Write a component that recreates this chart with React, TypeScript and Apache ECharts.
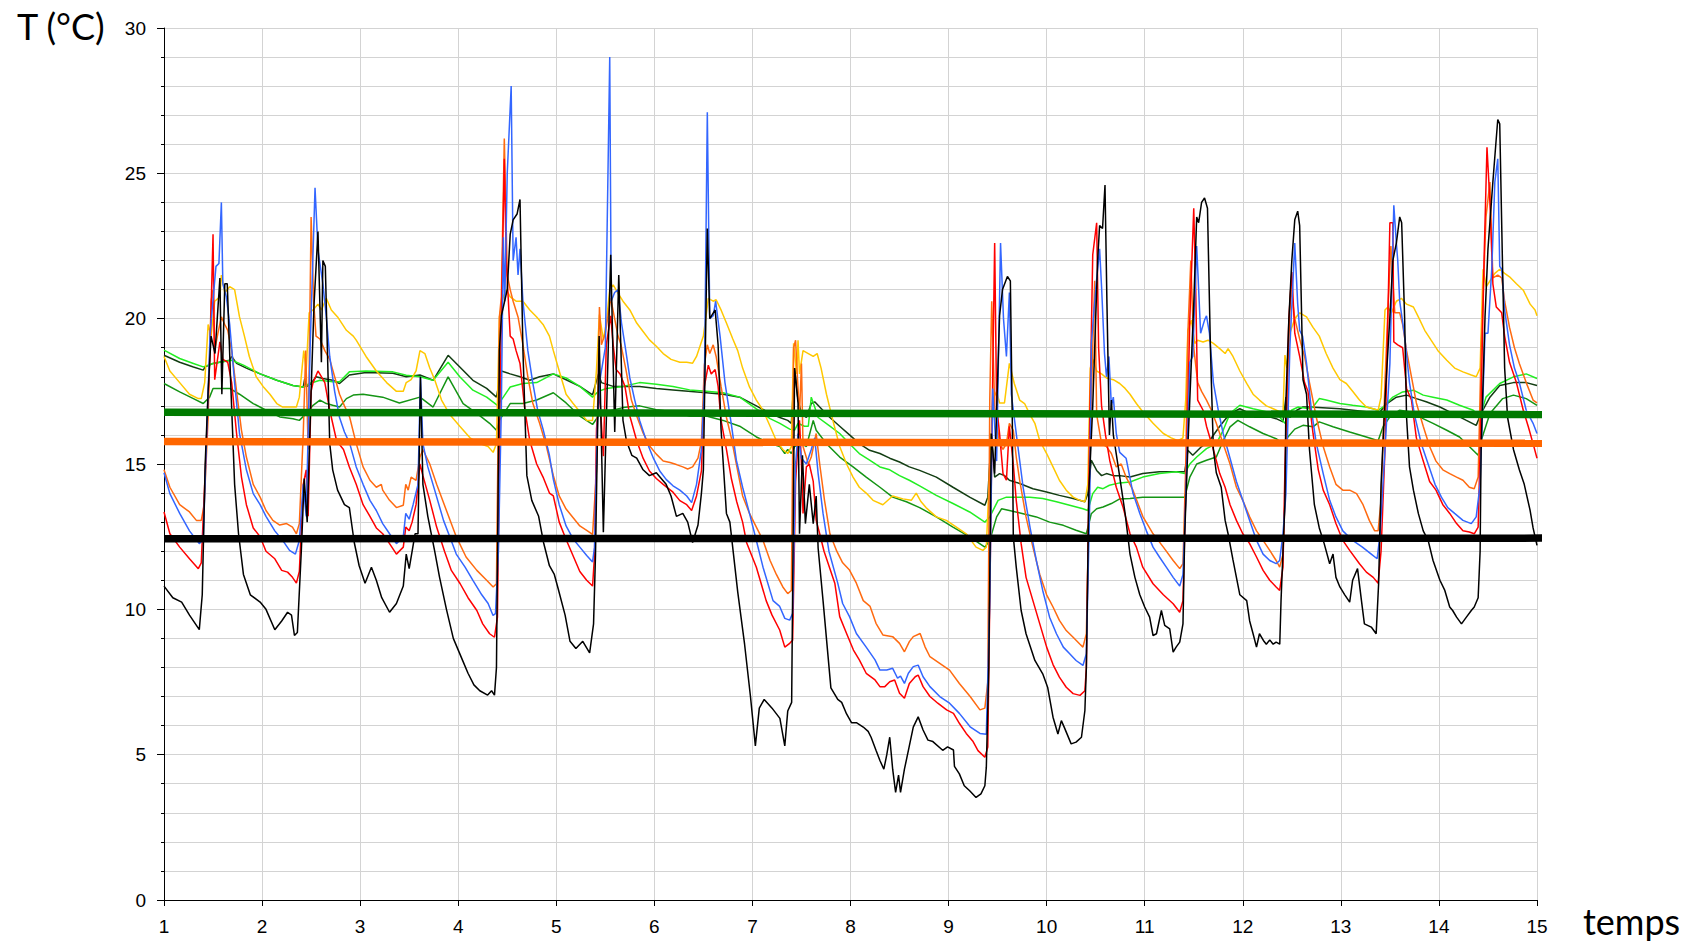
import React, { useEffect, useRef } from "react";
import * as echarts from "echarts";

type P = [number, number];

const xTickLabels = [1, 2, 3, 4, 5, 6, 7, 8, 9, 10, 11, 12, 13, 14, 15];
const yTickLabels = [0, 5, 10, 15, 20, 25, 30];

const black: P[] = [[1.0,10.8],[1.09,10.4],[1.18,10.25],[1.26,9.8],[1.36,9.3],[1.39,10.5],[1.42,15.0],[1.45,17.5],[1.48,19.4],[1.52,18.8],[1.57,21.4],[1.59,17.4],[1.62,21.2],[1.645,21.2],[1.68,17.8],[1.72,14.3],[1.76,12.6],[1.81,11.2],[1.88,10.5],[1.98,10.25],[2.04,10.0],[2.13,9.3],[2.2,9.6],[2.26,9.9],[2.3,9.8],[2.33,9.1],[2.36,9.2],[2.4,12.0],[2.43,14.5],[2.46,13.0],[2.5,17.5],[2.53,20.5],[2.57,23.0],[2.605,18.5],[2.62,22.0],[2.645,21.8],[2.69,15.7],[2.72,14.8],[2.77,14.1],[2.84,13.6],[2.89,13.5],[2.94,12.3],[2.99,11.5],[3.05,10.9],[3.115,11.45],[3.165,11.0],[3.22,10.4],[3.3,9.9],[3.37,10.2],[3.44,10.8],[3.47,11.9],[3.5,11.4],[3.56,12.6],[3.59,12.6],[3.615,18.0],[3.64,14.3],[3.69,13.2],[3.76,12.0],[3.81,11.1],[3.88,10.0],[3.95,9.0],[4.05,8.2],[4.1,7.8],[4.16,7.4],[4.22,7.2],[4.3,7.05],[4.34,7.2],[4.37,7.05],[4.39,8.0],[4.42,18.9],[4.44,20.1],[4.5,21.0],[4.53,22.9],[4.56,23.4],[4.6,23.6],[4.63,24.1],[4.66,18.9],[4.7,14.6],[4.75,13.75],[4.82,13.2],[4.87,12.3],[4.93,11.5],[4.98,11.2],[5.02,10.7],[5.09,9.8],[5.14,8.9],[5.2,8.65],[5.27,8.9],[5.34,8.5],[5.38,9.5],[5.4,11.9],[5.437,19.4],[5.48,12.65],[5.555,22.2],[5.596,16.1],[5.637,21.5],[5.68,16.5],[5.715,15.8],[5.77,15.3],[5.82,15.2],[5.885,14.8],[5.95,14.6],[6.02,14.7],[6.12,14.3],[6.17,13.9],[6.225,13.2],[6.29,13.3],[6.34,13.0],[6.39,12.3],[6.445,12.9],[6.48,14.0],[6.5,14.8],[6.54,23.1],[6.565,20.0],[6.62,20.3],[6.65,19.1],[6.68,16.2],[6.735,13.3],[6.77,13.0],[6.85,10.6],[6.92,8.8],[6.98,7.0],[7.03,5.3],[7.07,6.6],[7.12,6.9],[7.2,6.6],[7.28,6.25],[7.33,5.3],[7.36,6.5],[7.4,6.8],[7.43,18.3],[7.465,17.1],[7.48,12.6],[7.51,15.3],[7.54,12.95],[7.58,14.3],[7.62,12.95],[7.65,13.9],[7.67,12.1],[7.72,10.3],[7.8,7.3],[7.87,6.9],[7.91,6.8],[7.96,6.4],[8.01,6.1],[8.06,6.1],[8.13,5.95],[8.18,5.8],[8.21,5.6],[8.26,5.15],[8.3,4.8],[8.34,4.5],[8.37,5.0],[8.4,5.6],[8.43,4.5],[8.46,3.7],[8.49,4.3],[8.51,3.7],[8.55,4.5],[8.6,5.3],[8.64,5.95],[8.69,6.3],[8.74,5.85],[8.79,5.5],[8.84,5.45],[8.94,5.15],[8.99,5.27],[9.05,5.16],[9.06,4.6],[9.11,4.34],[9.16,3.93],[9.215,3.76],[9.28,3.53],[9.33,3.65],[9.37,3.93],[9.385,4.57],[9.41,8.0],[9.436,16.05],[9.47,14.67],[9.52,20.1],[9.55,21.0],[9.6,21.45],[9.63,21.3],[9.65,16.5],[9.66,12.5],[9.69,11.45],[9.74,9.96],[9.79,9.16],[9.88,8.24],[9.96,7.78],[10.01,7.32],[10.065,6.29],[10.115,5.71],[10.15,6.17],[10.18,5.94],[10.25,5.37],[10.3,5.43],[10.355,5.6],[10.39,6.52],[10.405,8.0],[10.43,14.0],[10.47,17.0],[10.52,22.0],[10.54,23.2],[10.57,23.1],[10.595,24.6],[10.615,20.5],[10.64,16.0],[10.66,17.2],[10.68,16.0],[10.73,14.9],[10.8,13.3],[10.85,11.9],[10.9,11.1],[10.95,10.5],[11.0,10.08],[11.05,9.73],[11.085,9.1],[11.12,9.16],[11.17,9.96],[11.204,9.45],[11.255,9.33],[11.29,8.53],[11.32,8.7],[11.357,8.87],[11.39,9.5],[11.408,12.6],[11.44,15.6],[11.5,20.5],[11.53,23.5],[11.55,23.3],[11.58,24.0],[11.61,24.15],[11.64,23.8],[11.67,19.0],[11.68,17.8],[11.7,15.5],[11.73,14.7],[11.78,14.2],[11.82,13.06],[11.85,12.6],[11.9,11.7],[11.97,10.5],[12.04,10.3],[12.07,9.6],[12.105,9.16],[12.14,8.7],[12.17,9.16],[12.21,8.93],[12.24,8.8],[12.275,8.95],[12.31,8.8],[12.34,8.87],[12.377,8.8],[12.39,10.3],[12.41,12.0],[12.43,13.7],[12.44,17.2],[12.47,20.0],[12.5,22.0],[12.53,23.4],[12.56,23.7],[12.58,23.2],[12.614,17.9],[12.65,17.4],[12.68,15.5],[12.73,13.6],[12.78,12.8],[12.83,12.26],[12.886,11.57],[12.92,11.9],[12.95,11.1],[12.99,10.77],[13.04,10.5],[13.09,10.25],[13.12,11.0],[13.17,11.4],[13.21,10.3],[13.24,9.5],[13.31,9.39],[13.36,9.16],[13.385,10.88],[13.41,14.3],[13.45,17.2],[13.5,20.06],[13.53,22.0],[13.566,22.6],[13.6,23.5],[13.62,23.3],[13.65,20.06],[13.67,16.6],[13.7,14.9],[13.74,14.1],[13.79,13.3],[13.84,12.7],[13.89,12.37],[13.94,11.68],[14.01,11.0],[14.06,10.65],[14.11,10.08],[14.14,9.96],[14.18,9.73],[14.23,9.5],[14.28,9.73],[14.33,9.96],[14.36,10.08],[14.4,10.4],[14.42,12.0],[14.43,15.5],[14.47,20.06],[14.5,22.4],[14.55,24.7],[14.58,26.0],[14.6,26.85],[14.62,26.7],[14.645,22.4],[14.67,18.3],[14.7,16.6],[14.76,15.5],[14.82,14.8],[14.87,14.3],[14.93,13.4],[14.96,12.8],[15.0,12.2]];

const red: P[] = [[1.0,13.35],[1.06,12.6],[1.16,12.14],[1.26,11.74],[1.35,11.4],[1.38,11.6],[1.43,15.5],[1.47,19.0],[1.5,22.9],[1.517,17.9],[1.57,19.2],[1.6,18.6],[1.65,18.5],[1.69,17.8],[1.74,16.05],[1.79,14.55],[1.84,13.6],[1.91,12.8],[1.98,12.5],[2.04,12.0],[2.13,11.74],[2.2,11.34],[2.26,11.28],[2.31,11.1],[2.35,10.9],[2.38,11.3],[2.42,14.3],[2.45,14.8],[2.47,13.2],[2.5,17.5],[2.52,17.8],[2.57,18.2],[2.64,17.8],[2.69,16.85],[2.76,15.8],[2.83,15.5],[2.89,14.9],[2.96,14.3],[3.03,13.6],[3.1,13.2],[3.165,12.8],[3.23,12.6],[3.3,12.26],[3.37,11.9],[3.44,12.14],[3.465,12.83],[3.5,12.7],[3.53,13.0],[3.57,13.6],[3.61,15.0],[3.64,14.6],[3.71,13.75],[3.78,12.83],[3.86,12.0],[3.93,11.34],[4.02,10.88],[4.1,10.4],[4.19,9.96],[4.25,9.5],[4.32,9.16],[4.37,9.04],[4.4,9.73],[4.43,18.0],[4.47,25.5],[4.49,22.0],[4.53,19.4],[4.56,19.3],[4.59,18.9],[4.63,18.46],[4.68,16.85],[4.73,15.8],[4.8,15.0],[4.865,14.55],[4.93,14.0],[4.97,13.9],[5.03,13.0],[5.1,12.4],[5.17,11.85],[5.24,11.3],[5.31,11.0],[5.37,10.8],[5.39,11.85],[5.41,16.2],[5.44,17.5],[5.48,15.27],[5.51,19.1],[5.555,20.1],[5.58,19.1],[5.61,18.25],[5.65,18.1],[5.7,17.67],[5.75,16.65],[5.82,15.8],[5.885,15.2],[5.95,14.76],[6.02,14.5],[6.09,14.3],[6.19,14.03],[6.26,13.74],[6.33,13.6],[6.38,13.4],[6.43,13.9],[6.48,14.76],[6.51,17.67],[6.55,18.4],[6.58,18.1],[6.62,18.25],[6.65,17.67],[6.68,16.5],[6.735,15.5],[6.785,14.5],[6.84,13.7],[6.9,13.0],[6.94,12.3],[7.04,11.45],[7.14,10.3],[7.2,9.8],[7.278,9.29],[7.33,8.7],[7.38,8.83],[7.41,8.94],[7.44,14.4],[7.48,16.5],[7.5,15.0],[7.516,13.3],[7.55,14.9],[7.58,15.0],[7.62,14.4],[7.65,13.06],[7.686,12.6],[7.73,12.0],[7.84,10.9],[7.89,9.75],[7.96,9.17],[8.03,8.6],[8.09,8.26],[8.16,7.8],[8.25,7.57],[8.3,7.34],[8.35,7.34],[8.4,7.51],[8.45,7.57],[8.5,7.11],[8.55,6.94],[8.6,7.45],[8.66,7.68],[8.69,7.74],[8.74,7.34],[8.81,7.0],[8.89,6.77],[8.98,6.54],[9.05,6.42],[9.11,6.08],[9.18,5.73],[9.25,5.45],[9.3,5.14],[9.37,4.91],[9.4,5.26],[9.42,10.3],[9.45,18.0],[9.47,22.6],[9.49,17.0],[9.52,16.05],[9.555,14.67],[9.59,14.44],[9.62,16.3],[9.66,15.0],[9.69,13.75],[9.74,12.26],[9.79,11.1],[9.86,10.3],[9.93,9.5],[10.0,8.7],[10.065,8.1],[10.13,7.67],[10.2,7.32],[10.27,7.1],[10.34,7.04],[10.39,7.2],[10.405,8.0],[10.44,16.6],[10.47,22.2],[10.51,23.3],[10.53,19.0],[10.56,17.0],[10.6,16.0],[10.643,15.13],[10.71,14.2],[10.78,13.5],[10.85,12.6],[10.915,12.14],[10.98,11.45],[11.085,10.88],[11.19,10.5],[11.29,10.19],[11.357,9.9],[11.39,10.3],[11.425,14.9],[11.46,20.0],[11.5,23.8],[11.52,21.0],[11.54,17.2],[11.595,16.85],[11.63,16.3],[11.7,15.5],[11.765,14.67],[11.82,14.2],[11.87,13.6],[11.935,13.06],[12.0,12.6],[12.07,12.26],[12.14,11.8],[12.207,11.34],[12.275,11.0],[12.34,10.77],[12.376,10.65],[12.41,11.45],[12.43,14.9],[12.47,20.0],[12.5,21.6],[12.53,19.5],[12.58,18.7],[12.63,17.8],[12.665,17.5],[12.716,16.05],[12.77,14.8],[12.82,14.1],[12.886,13.6],[12.95,12.95],[13.02,12.37],[13.09,12.03],[13.19,11.57],[13.26,11.28],[13.33,11.1],[13.38,10.9],[13.41,12.0],[13.45,15.5],[13.5,23.3],[13.53,23.3],[13.54,19.2],[13.58,19.1],[13.63,19.0],[13.67,17.6],[13.72,17.2],[13.77,15.9],[13.84,15.1],[13.905,14.4],[13.97,14.1],[14.04,13.6],[14.11,13.3],[14.18,12.95],[14.245,12.7],[14.31,12.66],[14.36,12.6],[14.4,12.83],[14.42,15.5],[14.46,22.0],[14.49,25.9],[14.52,24.0],[14.55,21.2],[14.585,20.4],[14.64,20.2],[14.67,19.4],[14.72,18.5],[14.79,17.8],[14.86,16.85],[14.91,16.3],[14.96,15.7],[15.0,15.2]];

const blue: P[] = [[1.0,14.7],[1.06,13.98],[1.16,13.3],[1.26,12.7],[1.36,12.26],[1.4,12.4],[1.43,15.5],[1.47,19.5],[1.53,21.8],[1.56,21.9],[1.585,24.0],[1.6,21.2],[1.636,20.75],[1.67,19.8],[1.72,17.8],[1.77,16.05],[1.84,14.8],[1.91,13.98],[1.98,13.6],[2.04,13.2],[2.13,12.7],[2.21,12.37],[2.28,12.03],[2.34,11.9],[2.38,12.37],[2.42,14.3],[2.45,13.2],[2.49,19.0],[2.54,24.5],[2.57,22.36],[2.62,21.2],[2.655,20.06],[2.69,18.7],[2.74,17.5],[2.79,16.6],[2.84,16.1],[2.894,15.7],[2.96,14.9],[3.03,14.3],[3.1,13.75],[3.165,13.4],[3.23,12.95],[3.3,12.6],[3.37,12.26],[3.44,12.5],[3.465,13.3],[3.5,13.1],[3.54,13.6],[3.59,14.3],[3.615,18.0],[3.64,15.7],[3.69,14.9],[3.76,14.1],[3.85,13.06],[3.914,12.5],[3.98,11.9],[4.07,11.45],[4.15,11.0],[4.24,10.5],[4.305,10.2],[4.355,9.79],[4.38,9.85],[4.41,12.0],[4.44,17.0],[4.46,22.8],[4.475,20.6],[4.5,25.0],[4.54,28.0],[4.56,22.0],[4.59,22.8],[4.61,21.5],[4.63,22.4],[4.66,20.6],[4.71,18.9],[4.76,17.8],[4.81,16.85],[4.865,16.2],[4.93,15.3],[4.97,14.47],[5.03,13.6],[5.1,12.87],[5.17,12.43],[5.24,12.14],[5.31,11.85],[5.37,11.63],[5.39,12.14],[5.42,16.5],[5.45,18.0],[5.5,19.0],[5.545,29.0],[5.56,20.6],[5.595,20.9],[5.63,21.0],[5.665,19.85],[5.7,19.1],[5.75,17.96],[5.8,17.2],[5.85,16.5],[5.92,15.78],[5.99,15.2],[6.055,14.76],[6.12,14.47],[6.19,14.25],[6.26,14.1],[6.33,13.9],[6.38,13.67],[6.43,14.3],[6.48,15.5],[6.51,17.67],[6.54,27.1],[6.565,20.0],[6.6,20.1],[6.625,20.6],[6.67,19.4],[6.72,17.8],[6.785,16.36],[6.836,15.13],[6.9,14.2],[6.97,13.3],[7.04,12.37],[7.108,11.45],[7.21,10.3],[7.278,10.1],[7.33,9.69],[7.38,9.63],[7.41,9.86],[7.44,15.0],[7.465,16.05],[7.5,15.2],[7.55,15.0],[7.6,15.5],[7.635,15.9],[7.67,14.67],[7.72,13.3],[7.78,12.0],[7.87,10.9],[7.92,10.2],[7.99,9.75],[8.06,9.17],[8.16,8.7],[8.25,8.26],[8.3,7.91],[8.37,7.91],[8.43,7.97],[8.48,7.63],[8.51,7.7],[8.55,7.45],[8.59,7.8],[8.64,8.03],[8.69,8.08],[8.74,7.68],[8.81,7.34],[8.91,7.0],[9.01,6.77],[9.11,6.42],[9.22,5.96],[9.32,5.73],[9.385,5.7],[9.42,10.3],[9.45,17.6],[9.49,15.1],[9.53,22.6],[9.56,20.0],[9.59,18.7],[9.62,20.9],[9.64,17.4],[9.69,16.05],[9.76,14.2],[9.83,12.83],[9.895,11.68],[9.96,10.65],[10.03,9.73],[10.1,9.16],[10.17,8.7],[10.235,8.47],[10.3,8.24],[10.37,8.07],[10.405,8.47],[10.44,13.75],[10.456,19.15],[10.5,21.0],[10.54,22.4],[10.56,21.1],[10.59,18.8],[10.61,18.0],[10.635,18.7],[10.66,17.0],[10.68,17.3],[10.71,16.05],[10.745,15.4],[10.81,15.2],[10.88,14.0],[10.95,13.3],[11.017,12.7],[11.085,12.14],[11.15,11.8],[11.22,11.45],[11.29,11.1],[11.357,10.8],[11.39,11.2],[11.418,13.75],[11.46,18.5],[11.49,18.7],[11.53,22.5],[11.57,19.5],[11.61,19.95],[11.63,20.1],[11.66,19.5],[11.7,17.8],[11.75,16.85],[11.8,16.05],[11.87,15.2],[11.935,14.4],[12.0,13.75],[12.07,13.06],[12.14,12.37],[12.207,11.9],[12.275,11.68],[12.34,11.57],[12.376,11.68],[12.41,12.6],[12.44,13.98],[12.48,19.0],[12.53,22.6],[12.56,20.5],[12.58,19.6],[12.61,19.4],[12.65,18.46],[12.7,16.85],[12.75,15.7],[12.82,14.67],[12.886,13.75],[12.95,13.18],[13.02,12.7],[13.12,12.37],[13.22,12.14],[13.31,11.9],[13.37,11.74],[13.4,12.6],[13.45,15.5],[13.5,18.46],[13.54,23.9],[13.566,22.6],[13.58,22.0],[13.6,20.6],[13.65,19.4],[13.7,17.8],[13.75,16.7],[13.82,15.7],[13.89,15.0],[13.96,14.3],[14.025,13.86],[14.09,13.5],[14.16,13.3],[14.245,13.06],[14.33,12.95],[14.38,13.18],[14.42,14.3],[14.47,19.5],[14.5,19.5],[14.54,21.8],[14.57,24.7],[14.6,25.5],[14.62,21.8],[14.64,21.7],[14.67,20.3],[14.72,19.1],[14.77,18.3],[14.82,17.8],[14.89,16.85],[14.96,16.4],[15.0,16.05]];

const orange: P[] = [[1.0,14.8],[1.06,14.2],[1.16,13.6],[1.26,13.35],[1.33,13.06],[1.38,13.06],[1.41,13.6],[1.45,16.6],[1.48,20.6],[1.5,21.0],[1.517,18.9],[1.55,19.5],[1.585,20.06],[1.62,19.8],[1.65,19.6],[1.69,18.9],[1.74,17.5],[1.79,16.16],[1.84,15.24],[1.91,14.3],[1.98,13.86],[2.04,13.4],[2.11,13.06],[2.18,12.9],[2.25,12.95],[2.31,12.83],[2.35,12.6],[2.38,12.95],[2.42,16.05],[2.445,18.9],[2.47,15.5],[2.5,23.5],[2.526,20.6],[2.55,19.4],[2.59,19.3],[2.64,18.9],[2.69,18.6],[2.74,18.0],[2.79,17.4],[2.84,17.0],[2.894,16.6],[2.96,15.7],[3.03,14.9],[3.1,14.44],[3.165,14.2],[3.216,14.3],[3.23,14.1],[3.3,13.75],[3.37,13.5],[3.44,13.58],[3.465,14.3],[3.49,14.1],[3.52,14.55],[3.57,14.44],[3.61,15.24],[3.64,15.5],[3.71,15.0],[3.78,14.3],[3.88,13.4],[3.98,12.5],[4.08,11.8],[4.19,11.34],[4.29,11.0],[4.356,10.77],[4.39,10.88],[4.42,20.06],[4.44,20.75],[4.47,26.2],[4.5,21.5],[4.53,21.0],[4.56,20.6],[4.61,20.06],[4.66,19.1],[4.71,18.0],[4.76,17.1],[4.83,16.4],[4.9,15.6],[4.97,14.6],[5.03,13.9],[5.1,13.45],[5.17,13.16],[5.24,12.87],[5.31,12.72],[5.37,12.58],[5.41,14.76],[5.44,20.4],[5.46,19.1],[5.5,19.5],[5.555,20.7],[5.595,20.0],[5.63,19.4],[5.66,19.1],[5.71,18.25],[5.766,17.2],[5.82,16.65],[5.885,16.07],[5.95,15.63],[6.02,15.34],[6.09,15.1],[6.16,15.05],[6.225,14.98],[6.29,14.9],[6.34,14.83],[6.39,14.9],[6.445,15.2],[6.48,15.78],[6.51,18.4],[6.54,19.1],[6.565,18.8],[6.6,19.1],[6.63,18.7],[6.68,17.67],[6.735,16.6],[6.785,15.9],[6.836,15.0],[6.9,13.9],[6.97,13.3],[7.04,12.83],[7.108,12.37],[7.18,11.68],[7.244,11.2],[7.31,10.77],[7.36,10.54],[7.397,10.65],[7.42,19.0],[7.44,19.26],[7.46,17.9],[7.48,16.7],[7.5,18.46],[7.516,15.6],[7.57,15.0],[7.6,15.24],[7.65,16.05],[7.686,15.0],[7.735,13.75],[7.79,12.6],[7.86,12.0],[7.92,11.6],[7.99,11.35],[8.06,10.9],[8.13,10.3],[8.2,10.1],[8.26,9.52],[8.33,9.12],[8.43,9.06],[8.5,8.83],[8.55,8.54],[8.6,8.89],[8.64,9.06],[8.71,9.17],[8.76,8.71],[8.81,8.37],[8.91,8.14],[9.01,7.91],[9.11,7.45],[9.22,7.0],[9.32,6.54],[9.37,6.6],[9.4,7.5],[9.42,17.2],[9.44,20.6],[9.47,17.0],[9.52,15.7],[9.555,15.5],[9.59,15.7],[9.62,16.4],[9.66,16.16],[9.69,15.24],[9.725,14.44],[9.79,13.18],[9.86,12.14],[9.93,11.2],[10.0,10.5],[10.065,10.08],[10.13,9.62],[10.2,9.27],[10.27,9.04],[10.34,8.8],[10.37,8.7],[10.405,9.16],[10.44,15.0],[10.47,19.0],[10.49,21.3],[10.51,16.7],[10.56,15.7],[10.61,15.6],[10.66,15.36],[10.71,14.9],[10.76,15.0],[10.81,14.55],[10.88,14.1],[10.98,13.2],[11.085,12.6],[11.19,12.14],[11.29,11.68],[11.357,11.4],[11.39,11.57],[11.418,14.9],[11.44,19.5],[11.47,22.0],[11.5,19.0],[11.54,17.8],[11.58,17.5],[11.63,17.2],[11.68,16.85],[11.73,16.4],[11.8,15.7],[11.87,15.0],[11.935,14.2],[12.0,13.75],[12.07,13.18],[12.14,12.7],[12.207,12.37],[12.275,12.03],[12.34,11.68],[12.376,11.45],[12.41,11.9],[12.43,13.75],[12.46,18.3],[12.49,21.1],[12.53,20.0],[12.58,19.3],[12.63,18.7],[12.68,17.8],[12.75,16.6],[12.82,15.6],[12.886,14.9],[12.95,14.3],[13.02,14.1],[13.09,14.1],[13.16,13.98],[13.226,13.6],[13.29,13.06],[13.345,12.7],[13.38,12.7],[13.41,13.75],[13.45,17.8],[13.48,20.3],[13.51,22.5],[13.55,20.2],[13.6,20.2],[13.63,19.8],[13.67,18.9],[13.72,18.0],[13.77,17.1],[13.84,16.3],[13.905,15.6],[13.97,15.1],[14.04,14.8],[14.11,14.67],[14.18,14.55],[14.245,14.44],[14.31,14.2],[14.36,14.15],[14.4,14.55],[14.43,18.9],[14.48,23.5],[14.52,24.7],[14.55,21.4],[14.6,21.5],[14.64,21.4],[14.67,20.6],[14.72,19.7],[14.77,19.0],[14.82,18.46],[14.89,17.8],[14.96,17.2],[15.0,17.1]];

const yellow: P[] = [[1.0,18.7],[1.06,18.2],[1.16,17.8],[1.26,17.4],[1.35,17.25],[1.38,17.25],[1.415,17.8],[1.45,19.8],[1.48,19.4],[1.517,20.6],[1.57,20.75],[1.585,21.5],[1.62,20.9],[1.67,21.1],[1.72,21.0],[1.77,20.06],[1.82,19.4],[1.87,18.7],[1.94,18.0],[2.01,17.67],[2.08,17.4],[2.15,17.08],[2.21,16.96],[2.28,16.96],[2.35,16.96],[2.38,17.3],[2.425,18.9],[2.45,18.2],[2.48,20.2],[2.52,20.3],[2.57,20.5],[2.605,20.3],[2.655,20.7],[2.706,20.3],[2.77,20.06],[2.86,19.6],[2.93,19.4],[2.96,19.26],[3.06,18.7],[3.165,18.2],[3.27,17.8],[3.37,17.5],[3.44,17.5],[3.47,17.8],[3.52,17.9],[3.57,18.2],[3.61,18.9],[3.66,18.8],[3.71,18.3],[3.76,17.9],[3.83,17.2],[3.914,16.7],[4.016,16.3],[4.12,15.9],[4.22,15.7],[4.305,15.6],[4.356,15.4],[4.39,15.7],[4.42,20.06],[4.46,20.75],[4.49,21.0],[4.53,20.75],[4.59,20.6],[4.66,20.6],[4.73,20.3],[4.8,20.06],[4.865,19.8],[4.93,19.4],[4.97,18.9],[5.03,18.2],[5.1,17.4],[5.17,17.09],[5.24,16.8],[5.31,16.5],[5.37,16.5],[5.41,18.25],[5.44,20.14],[5.48,19.27],[5.51,19.85],[5.545,21.0],[5.58,21.16],[5.63,20.87],[5.68,20.6],[5.75,20.3],[5.82,19.85],[5.885,19.56],[5.95,19.27],[6.02,19.05],[6.09,18.8],[6.17,18.6],[6.26,18.5],[6.33,18.5],[6.39,18.47],[6.43,18.7],[6.46,19.0],[6.5,19.4],[6.55,20.7],[6.6,20.6],[6.63,20.65],[6.68,20.3],[6.735,19.85],[6.8,19.3],[6.85,18.9],[6.9,18.3],[6.97,17.65],[7.04,17.2],[7.108,16.85],[7.18,16.3],[7.244,15.8],[7.31,15.5],[7.36,15.36],[7.397,15.6],[7.42,19.15],[7.45,18.1],[7.465,19.26],[7.48,18.1],[7.516,18.9],[7.57,18.8],[7.62,18.7],[7.66,18.8],[7.7,18.3],[7.755,17.4],[7.82,16.5],[7.89,15.6],[7.96,15.0],[8.026,14.55],[8.09,14.2],[8.16,14.0],[8.23,13.75],[8.33,13.6],[8.43,13.9],[8.535,13.8],[8.62,13.75],[8.67,14.0],[8.72,13.7],[8.77,13.5],[8.875,13.18],[8.977,13.06],[9.08,12.83],[9.18,12.6],[9.28,12.14],[9.35,12.03],[9.385,12.14],[9.42,14.9],[9.45,17.2],[9.49,17.5],[9.52,17.1],[9.57,17.1],[9.62,18.46],[9.67,17.77],[9.725,17.2],[9.775,17.08],[9.83,16.7],[9.88,16.4],[9.93,15.8],[10.0,15.36],[10.065,14.9],[10.13,14.44],[10.2,14.1],[10.27,13.86],[10.34,13.75],[10.39,13.7],[10.42,14.3],[10.445,18.3],[10.47,18.6],[10.51,18.2],[10.56,18.1],[10.61,17.96],[10.68,17.9],[10.745,17.77],[10.8,17.6],[10.85,17.4],[10.915,17.08],[10.98,16.8],[11.085,16.4],[11.19,16.05],[11.27,15.9],[11.34,15.8],[11.39,15.9],[11.418,17.2],[11.44,19.6],[11.476,19.95],[11.51,19.15],[11.54,19.26],[11.595,19.2],[11.646,19.26],[11.7,19.15],[11.765,18.97],[11.82,18.8],[11.85,18.97],[11.9,18.7],[11.97,18.2],[12.04,17.77],[12.105,17.4],[12.17,17.2],[12.24,17.0],[12.31,16.9],[12.376,16.8],[12.41,16.74],[12.43,18.75],[12.45,18.3],[12.48,19.5],[12.53,20.0],[12.58,20.2],[12.65,20.06],[12.716,19.7],[12.78,19.4],[12.85,18.8],[12.92,18.3],[12.99,17.9],[13.056,17.77],[13.12,17.5],[13.19,17.2],[13.26,16.96],[13.33,16.9],[13.38,16.85],[13.41,17.3],[13.45,20.3],[13.48,20.4],[13.515,20.2],[13.566,20.6],[13.617,20.7],[13.67,20.5],[13.74,20.4],[13.79,20.06],[13.855,19.6],[13.92,19.26],[13.99,18.9],[14.08,18.57],[14.16,18.3],[14.245,18.17],[14.33,18.06],[14.38,18.0],[14.42,18.3],[14.45,21.7],[14.483,21.1],[14.52,21.3],[14.57,21.56],[14.62,21.7],[14.67,21.56],[14.72,21.44],[14.79,21.2],[14.86,20.98],[14.93,20.5],[14.98,20.3],[15.0,20.1]];

const lime: P[] = [[1.0,18.92],[1.16,18.63],[1.3,18.46],[1.4,18.34],[1.5,18.46],[1.69,18.57],[1.81,18.4],[1.98,18.1],[2.15,17.88],[2.315,17.7],[2.42,17.65],[2.485,17.77],[2.59,17.88],[2.72,17.83],[2.79,17.83],[2.89,18.17],[3.06,18.2],[3.335,18.17],[3.47,18.05],[3.61,18.0],[3.744,17.88],[3.897,18.5],[4.016,18.0],[4.15,17.54],[4.29,17.3],[4.4,17.02],[4.46,17.3],[4.53,17.65],[4.66,17.77],[4.8,17.8],[4.97,18.1],[5.1,17.96],[5.24,17.67],[5.37,17.3],[5.43,17.5],[5.51,17.6],[5.68,17.67],[5.85,17.8],[6.02,17.74],[6.19,17.67],[6.36,17.55],[6.53,17.5],[6.7,17.45],[6.87,17.3],[7.04,16.9],[7.18,16.56],[7.28,16.4],[7.38,16.2],[7.43,16.16],[7.465,16.4],[7.53,16.3],[7.57,16.3],[7.6,17.3],[7.635,16.96],[7.67,16.6],[7.79,16.3],[7.89,16.05],[7.99,15.7],[8.09,15.36],[8.195,15.13],[8.3,14.9],[8.4,14.8],[8.5,14.6],[8.6,14.44],[8.705,14.25],[8.875,13.92],[9.045,13.64],[9.215,13.35],[9.37,13.0],[9.42,13.18],[9.505,13.75],[9.59,13.86],[9.69,13.86],[9.83,13.86],[9.96,13.81],[10.1,13.7],[10.235,13.58],[10.37,13.46],[10.42,13.4],[10.47,13.98],[10.52,14.2],[10.575,14.15],[10.64,14.27],[10.745,14.35],[10.85,14.38],[10.98,14.55],[11.15,14.67],[11.32,14.73],[11.408,14.67],[11.46,15.0],[11.53,15.24],[11.63,15.53],[11.73,15.7],[11.8,16.16],[11.87,16.74],[11.97,17.02],[12.105,16.9],[12.24,16.8],[12.376,16.62],[12.43,16.4],[12.496,16.85],[12.565,16.96],[12.68,16.9],[12.716,16.96],[12.78,17.25],[12.85,17.2],[12.99,17.08],[13.12,17.02],[13.26,16.96],[13.38,16.85],[13.43,16.96],[13.53,17.3],[13.63,17.48],[13.74,17.54],[13.84,17.37],[13.94,17.3],[14.08,17.2],[14.21,17.02],[14.35,16.85],[14.42,16.62],[14.48,17.3],[14.62,17.77],[14.76,18.0],[14.89,18.1],[15.0,17.94]];

const darkGreen: P[] = [[1.0,18.74],[1.16,18.5],[1.3,18.34],[1.4,18.23],[1.42,18.34],[1.5,18.46],[1.67,18.57],[1.69,18.7],[1.74,18.46],[1.84,18.3],[1.98,18.1],[2.15,17.88],[2.315,17.7],[2.42,17.65],[2.435,17.94],[2.45,17.65],[2.5,17.77],[2.55,18.0],[2.62,17.94],[2.72,17.88],[2.79,17.77],[2.89,18.06],[3.06,18.15],[3.335,18.12],[3.47,18.0],[3.61,18.06],[3.744,17.88],[3.897,18.74],[4.016,18.34],[4.15,17.88],[4.29,17.6],[4.39,17.3],[4.44,18.2],[4.53,18.1],[4.63,18.0],[4.73,17.88],[4.83,18.0],[4.97,18.1],[5.1,17.9],[5.24,17.67],[5.37,17.38],[5.43,18.1],[5.46,17.8],[5.58,17.67],[5.85,17.67],[6.02,17.6],[6.19,17.55],[6.53,17.45],[6.7,17.4],[6.87,17.3],[7.04,17.0],[7.18,16.74],[7.28,16.6],[7.36,16.5],[7.397,16.4],[7.43,18.3],[7.465,17.2],[7.5,16.74],[7.55,16.6],[7.6,17.08],[7.635,17.14],[7.686,16.96],[7.79,16.6],[7.89,16.3],[7.99,16.0],[8.09,15.7],[8.195,15.47],[8.3,15.36],[8.4,15.2],[8.5,15.07],[8.6,14.9],[8.705,14.78],[8.875,14.55],[9.045,14.2],[9.215,13.86],[9.37,13.58],[9.4,13.86],[9.436,16.05],[9.47,14.55],[9.52,14.67],[9.57,14.6],[9.62,14.44],[9.725,14.33],[9.86,14.15],[10.0,14.04],[10.13,13.92],[10.27,13.81],[10.39,13.7],[10.42,13.98],[10.455,15.13],[10.51,14.78],[10.56,14.6],[10.61,14.67],[10.68,14.6],[10.745,14.6],[10.85,14.55],[10.98,14.67],[11.15,14.73],[11.32,14.73],[11.408,14.73],[11.44,15.47],[11.49,15.3],[11.58,15.6],[11.66,15.8],[11.765,16.3],[11.87,16.74],[11.97,16.9],[12.07,16.74],[12.207,16.68],[12.34,16.56],[12.41,16.45],[12.44,17.3],[12.48,16.6],[12.55,16.85],[12.614,16.96],[12.68,16.96],[12.99,16.9],[13.26,16.8],[13.4,16.8],[13.47,17.08],[13.566,17.3],[13.67,17.37],[13.77,17.25],[13.87,17.14],[14.01,16.96],[14.14,16.74],[14.28,16.5],[14.38,16.33],[14.43,16.74],[14.52,17.3],[14.62,17.7],[14.76,17.8],[14.89,17.8],[15.0,17.7]];

const midGreen: P[] = [[1.0,17.77],[1.16,17.48],[1.3,17.25],[1.4,17.08],[1.465,17.3],[1.5,17.6],[1.67,17.6],[1.77,17.4],[1.91,17.08],[2.04,16.85],[2.18,16.62],[2.315,16.56],[2.38,16.5],[2.45,16.74],[2.52,17.02],[2.59,17.2],[2.655,17.08],[2.72,17.02],[2.79,16.96],[2.86,17.25],[2.93,17.37],[3.03,17.4],[3.23,17.3],[3.4,17.1],[3.61,17.3],[3.744,16.96],[3.897,18.0],[4.05,17.08],[4.19,16.74],[4.32,16.4],[4.39,16.16],[4.42,16.5],[4.53,17.08],[4.66,17.08],[4.8,17.2],[4.97,17.45],[5.1,17.1],[5.24,16.65],[5.37,16.36],[5.43,16.65],[5.51,16.8],[5.68,16.94],[5.85,17.0],[6.02,16.87],[6.19,16.8],[6.36,16.65],[6.53,16.65],[6.7,16.5],[6.87,16.3],[7.04,15.93],[7.18,15.7],[7.28,15.6],[7.33,15.36],[7.36,15.5],[7.397,15.36],[7.43,15.6],[7.5,15.7],[7.55,15.6],[7.62,16.5],[7.65,16.16],[7.755,15.7],[7.89,15.24],[8.026,14.9],[8.16,14.55],[8.3,14.2],[8.43,13.86],[8.57,13.7],[8.705,13.5],[8.875,13.18],[9.045,12.83],[9.215,12.49],[9.37,12.14],[9.42,12.37],[9.49,13.18],[9.54,13.46],[9.62,13.4],[9.76,13.29],[9.895,13.18],[10.03,13.0],[10.17,12.89],[10.3,12.72],[10.405,12.6],[10.455,13.29],[10.51,13.46],[10.575,13.52],[10.66,13.64],[10.745,13.8],[10.85,13.81],[10.98,13.86],[11.15,13.86],[11.32,13.86],[11.408,13.86],[11.46,14.55],[11.53,15.0],[11.63,15.13],[11.73,15.24],[11.8,15.8],[11.87,16.28],[11.95,16.5],[12.07,16.28],[12.207,16.05],[12.34,15.87],[12.41,15.7],[12.46,15.93],[12.53,16.2],[12.614,16.33],[12.716,16.28],[12.78,16.45],[12.92,16.28],[13.09,16.1],[13.26,15.93],[13.38,15.8],[13.43,16.28],[13.5,16.62],[13.6,16.85],[13.7,16.8],[13.8,16.62],[13.94,16.4],[14.08,16.16],[14.21,15.93],[14.31,15.6],[14.4,15.3],[14.43,15.8],[14.52,16.74],[14.65,17.25],[14.76,17.37],[14.89,17.25],[15.0,17.02]];

const refGreen: P[] = [[1.0,16.78],[15.09,16.7]];
const refOrange: P[] = [[1.0,15.77],[15.09,15.71]];
const refBlack: P[] = [[1.0,12.43],[15.09,12.45]];

const GRID = "#d3d3d3";
const AXIS = "#000000";

function thin(name: string, data: P[], color: string) {
  return {
    name, type: "line", data, symbol: "none", showSymbol: false, silent: true,
    lineStyle: { color, width: 1.5 }, itemStyle: { color },
  };
}
function thick(name: string, data: P[], color: string) {
  return {
    name, type: "line", data, symbol: "none", showSymbol: false, silent: true, clip: false,
    lineStyle: { color, width: 7.5 }, itemStyle: { color },
  };
}

export default function App() {
  const ref = useRef<HTMLDivElement | null>(null);
  useEffect(() => {
    if (!ref.current) return;
    const chart = echarts.init(ref.current, undefined, { renderer: "svg" });
    chart.setOption({
      animation: false,
      backgroundColor: "#ffffff",
      grid: { left: 164, right: 162, top: 28, bottom: 45, containLabel: false },
      xAxis: {
        type: "value", min: xTickLabels[0], max: xTickLabels[xTickLabels.length - 1], interval: 1,
        axisLine: { show: true, onZero: false, lineStyle: { color: AXIS, width: 1 } },
        axisTick: { show: true, length: 6, lineStyle: { color: AXIS } },
        axisLabel: { fontSize: 19, fontFamily: "Liberation Sans, Arial, sans-serif", color: "#000", margin: 17 },
        splitLine: { show: true, lineStyle: { color: GRID, width: 1 } },
      },
      yAxis: {
        type: "value", min: yTickLabels[0], max: yTickLabels[yTickLabels.length - 1], interval: 5,
        axisLine: { show: true, onZero: false, lineStyle: { color: AXIS, width: 1 } },
        axisTick: { show: true, length: 7, lineStyle: { color: AXIS } },
        minorTick: { show: true, splitNumber: 5, length: 3, lineStyle: { color: AXIS } },
        minorSplitLine: { show: true, lineStyle: { color: GRID, width: 1 } },
        axisLabel: { fontSize: 19, fontFamily: "Liberation Sans, Arial, sans-serif", color: "#000", margin: 18 },
        splitLine: { show: true, lineStyle: { color: GRID, width: 1 } },
      },
      graphic: [
        { type: "text", x: 17, y: 26, style: { text: "T (°C)", fontSize: 36, fontFamily: "Lato, 'Open Sans', sans-serif", fill: "#000", align: "left", verticalAlign: "middle" } },
        { type: "text", x: 1583, y: 921, style: { text: "temps", fontSize: 36, fontFamily: "Lato, 'Open Sans', sans-serif", fill: "#000", align: "left", verticalAlign: "middle" } },
      ],
      series: [
        thin("vert foncé", darkGreen, "#123d12"),
        thin("vert moyen", midGreen, "#149414"),
        thin("vert clair", lime, "#22ee22"),
        thin("jaune", yellow, "#ffc800"),
        thin("orange", orange, "#ff6a10"),
        thin("rouge", red, "#ff0000"),
        thin("bleu", blue, "#3366ff"),
        thin("noir", black, "#000000"),
        thick("seuil vert", refGreen, "#007a00"),
        thick("seuil orange", refOrange, "#ff6600"),
        thick("seuil noir", refBlack, "#000000"),
      ],
    });
    return () => chart.dispose();
  }, []);
  return (
    <div
      ref={ref}
      style={{ position: "fixed", left: 0, top: 0, width: 1699, height: 945, background: "#fff" }}
    />
  );
}
